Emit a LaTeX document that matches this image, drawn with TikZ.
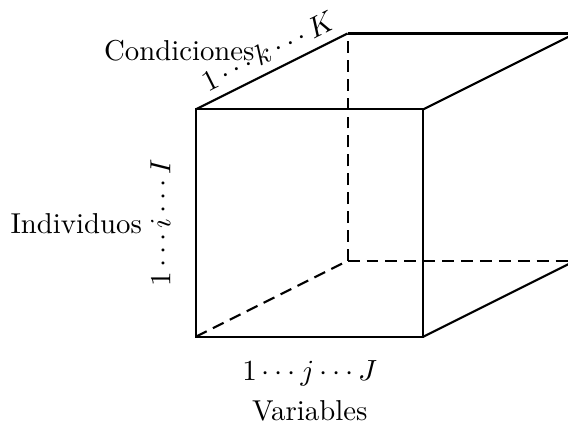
\documentclass[tikz,border=0pt]{standalone}
\usepackage{amsmath,amssymb}
\usepackage{tikz}
\usetikzlibrary{positioning,calc}

\tikzset{
    edge/.style={thick},
    hidden/.style={thick, dash pattern=on 4.5pt off 2.6pt}
}

\begin{document}
\begin{tikzpicture}[every node/.style={font=\fontsize{10.8}{13}\selectfont}]
    \useasboundingbox (-2.586,-1.165) rectangle (4.908,4.442);
    % front face
    \coordinate (A) at (0,0);
    \coordinate (B) at (3,0);
    \coordinate (C) at (3,3);
    \coordinate (D) at (0,3);
    % back face
    \coordinate (E) at (2,1);
    \coordinate (F) at (5,1);
    \coordinate (G) at (5,4);
    \coordinate (H) at (2,4);
    \draw[edge] (A) -- (B) -- (C) -- (D) -- cycle;
    \draw[edge] (D) -- node[pos=0.535, above, sloped] (klab) {$1\cdots k\cdots K$} (H);
    \draw[edge] (H) -- (G);
    \draw[edge] (C) -- (G);
    \draw[edge] (B) -- (F);
    \draw[hidden] (A) -- (E);
    \draw[hidden] (E) -- (H);
    \draw[hidden] (E) -- (F);
    % labels
    \node (cond) at (-0.22,3.78) {Condiciones};
    \node[rotate=90] (ilab) at (-0.47,1.5) {$1\cdots i\cdots I$};
    \node (indiv) at (-1.58,1.49) {Individuos};
    \node (jlab) at (1.5,-0.49) {$1\cdots j\cdots J$};
    \node (var) at (1.5,-0.98) {Variables};
\end{tikzpicture}
\end{document}
